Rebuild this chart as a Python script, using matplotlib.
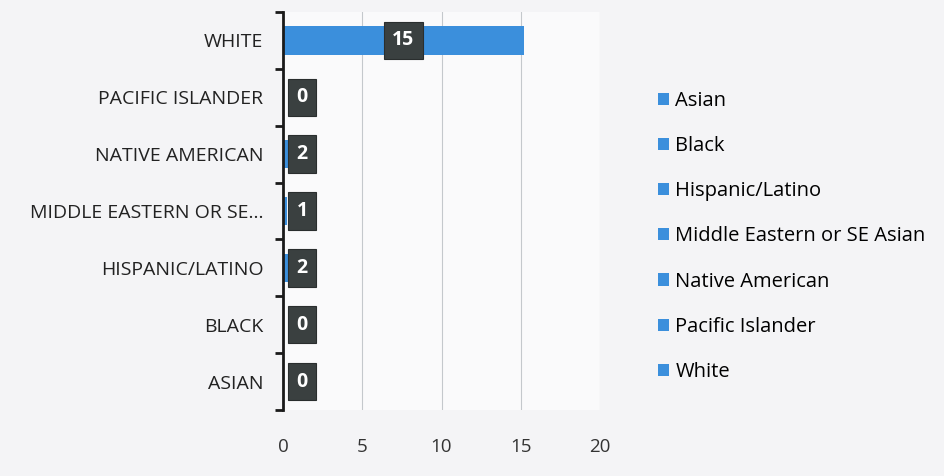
import numpy as np
import matplotlib.pyplot as plt
from matplotlib.patches import Patch

# --- donnees ---
categories = ["ASIAN", "BLACK", "HISPANIC/LATINO", "MIDDLE EASTERN OR SE...",
              "NATIVE AMERICAN", "PACIFIC ISLANDER", "WHITE"]
counts = [0, 0, 2, 1, 2, 0, 15]          # etiquettes affichees
bar_len = [0, 0, 0.3, 0.25, 0.3, 0, 15.2]  # longueur visible des barres
legend_labels = ["Asian", "Black", "Hispanic/Latino", "Middle Eastern or SE Asian",
                 "Native American", "Pacific Islander", "White"]
xticks = [0, 5, 10, 15, 20]

BLUE = "#3b8fdc"
FONT = "Open Sans"

fig = plt.figure(figsize=(9.44, 4.76), dpi=100, facecolor="#f4f4f6")
ax = fig.add_axes([0.2998, 0.1387, 0.3358, 0.836])
ax.set_facecolor("#fafafb")

y = np.arange(len(categories))
ax.barh(y, bar_len, height=0.5, color=BLUE, zorder=2)

# etiquettes de donnees (boites sombres)
for yi, v, L in zip(y, counts, bar_len):
    xpos = max(L / 2, 1.2)
    ax.text(xpos, yi, str(v), ha="center", va="center", color="white",
            fontsize=14, fontweight="bold", family=FONT, zorder=4,
            bbox=dict(boxstyle="square,pad=0.45", fc="#3a4040", ec="#2a2e2e", lw=0.8))

ax.set_xlim(0, 20)
ax.set_ylim(-0.5, len(categories) - 0.5)
ax.set_xticks(xticks)
ax.set_xticklabels([str(t) for t in xticks], family=FONT, fontsize=13.5, color="#333333")
ax.set_yticks(y)
ax.set_yticklabels(categories, family=FONT, fontsize=14, color="#222222")
ax.set_yticks(np.arange(-0.5, len(categories), 1), minor=True)

ax.tick_params(axis="x", length=0, pad=20)
ax.tick_params(axis="y", which="major", length=0, pad=14)
ax.tick_params(axis="y", which="minor", length=6, width=2, color="#1a1a1a")

ax.grid(axis="x", color="#c4c8cc", lw=0.8, zorder=0)
for s in ["top", "right", "bottom"]:
    ax.spines[s].set_visible(False)
ax.spines["left"].set_linewidth(2)
ax.spines["left"].set_color("#1a1a1a")

handles = [Patch(facecolor=BLUE, edgecolor="none") for _ in legend_labels]
fig.legend(handles, legend_labels, loc="upper left", bbox_to_anchor=(0.678, 0.847),
           frameon=False, prop={"family": FONT, "size": 14.5}, handlelength=0.55,
           handleheight=0.55, handletextpad=0.3, labelspacing=1.25)

plt.savefig("out.png", dpi=100, facecolor=fig.get_facecolor())
